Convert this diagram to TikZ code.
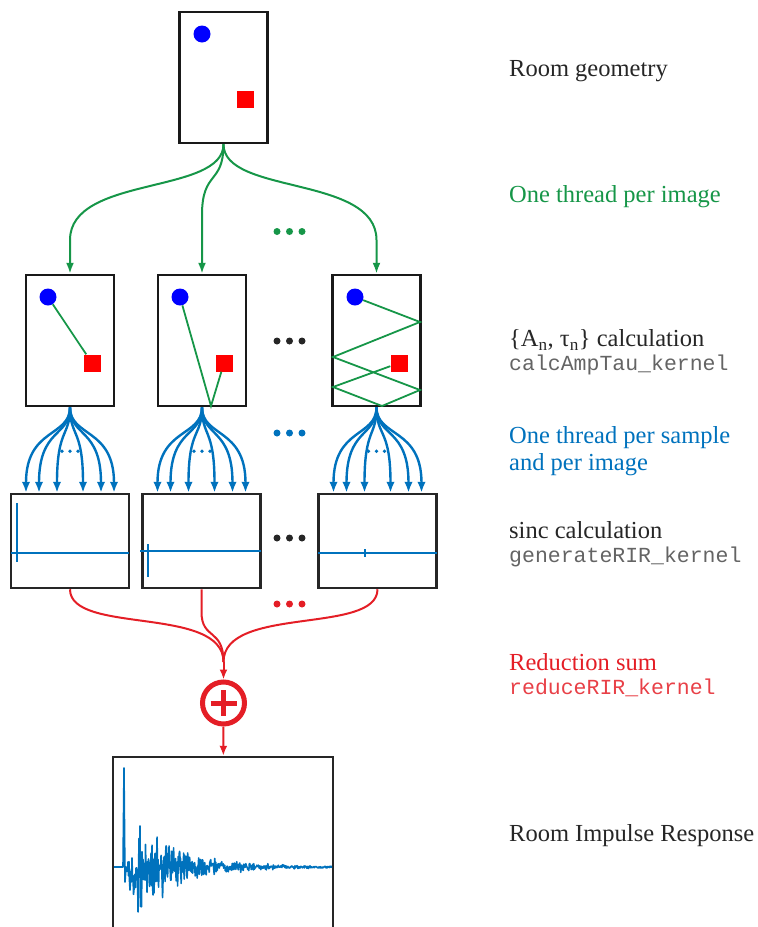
\documentclass[tikz,border=0pt]{standalone}
\usepackage{fontspec}
\setmainfont{Liberation Serif}
\setmonofont{Liberation Mono}
\usetikzlibrary{arrows.meta,calc}

\definecolor{thrgreen}{RGB}{22,150,72}
\definecolor{smpblue}{RGB}{0,114,189}
\definecolor{sumred}{RGB}{228,30,38}
\definecolor{labgray}{RGB}{100,100,100}

\tikzset{
  room/.style={draw=black!90, line width=2.5pt, minimum width=88pt, minimum height=131pt, inner sep=0pt},
  sigbox/.style={draw=black!85, line width=2.5pt, minimum width=118pt, minimum height=94pt, inner sep=0pt},
  src/.style={circle, fill=blue, minimum size=17pt, inner sep=0pt},
  mic/.style={rectangle, fill=red, minimum size=17pt, inner sep=0pt},
  ray/.style={thrgreen, line width=1.8pt},
  thread/.style={thrgreen, line width=2pt, -{Latex[length=11pt,width=8pt]}},
  sample/.style={smpblue, line width=2.4pt, -{Latex[length=11pt,width=8.5pt]}},
  sumline/.style={sumred, line width=2pt},
  adder/.style={circle, draw=sumred, line width=5pt, minimum size=42pt, inner sep=0pt},
  wave/.style={smpblue, line width=1.2pt},
  txt/.style={anchor=west, inner sep=0pt, font=\fontsize{24.5}{27}\selectfont},
  kname/.style={anchor=west, inner sep=0pt, font=\fontsize{21.5}{25}\selectfont\ttfamily, text=labgray},
}

\begin{document}
\begin{tikzpicture}[x=1pt, y=-1pt]
    \useasboundingbox (0,0) rectangle (758,927);
    \clip (0,0) rectangle (758,927);

    % room with source and receiver
    \node[room] (r0) at (223.5,77.5) {};
    \node[src] (s0) at (202,34) {};
    \node[mic] (m0) at (245.5,99.5) {};

    % image rooms
    \node[room] (r1) at (70,340.5) {};
    \node[room] (r2) at (202,340.5) {};
    \node[room] (r3) at (376.5,340.5) {};
    \node[src] (s1) at (48,297) {};
    \node[mic] (m1) at (92,363) {};
    \node[src] (s2) at (180,297) {};
    \node[mic] (m2) at (224,363) {};
    \node[src] (s3) at (355,297) {};
    \node[mic] (m3) at (399,363) {};

    \draw[ray] (s1) -- (m1);
    \draw[ray] (s2) -- (211,406) -- (m2);
    \draw[ray] (s3) -- (420,322) -- (333,357) -- (420,390) -- (382,406) -- (333,387) -- (m3);

    \draw[thread] (r0.south) .. controls (223.5,195) and (70,175) .. (70,240) -- (r1.north);
    \draw[thread] (r0.south) .. controls (223.5,185) and (202,170) .. (202,215) -- (r2.north);
    \draw[thread] (r0.south) .. controls (223.5,195) and (376.5,175) .. (376.5,240) -- (r3.north);

    \foreach \x in {277,289.5,302} \fill[thrgreen] (\x,231.5) circle (3.5);
    \foreach \x in {277,289.5,302} \fill[black!85] (\x,341) circle (3.5);

    % sinc boxes
    \node[sigbox] (c1) at (70,541) {};
    \node[sigbox] (c2) at (201.5,541) {};
    \node[sigbox] (c3) at (377.5,541) {};

    \draw[wave] (11,553) -- (129,553);
    \draw[wave] (17,503) -- (17,562);
    \draw[wave] (140,551) -- (261,551);
    \draw[wave] (148,544) -- (148,577);
    \draw[wave] (318,553) -- (437,553);
    \draw[wave] (365,549) -- (365,557);

    \foreach \r/\c in {r1/c1, r2/c2, r3/c3} {
        \foreach \d in {-44,-31,-13,13,31,44}
            \draw[sample] (\r.south) .. controls ($(\r.south)+(0,30)$) and ($(\c.north)+(\d,-65)$) .. ($(\c.north)+(\d,0)$);
        \foreach \d in {-8,0,8}
            \fill[smpblue] ($(\r.south)+(\d,44)$) circle (1.8);
    }
    \foreach \x in {277,289.5,302} \fill[smpblue] (\x,433) circle (3.5);
    \foreach \x in {277,289.5,302} \fill[black!85] (\x,538) circle (3.5);

    % reduction
    \coordinate (merge) at (223.5,662);
    \node[adder] (plus) at (223.5,703) {};
    \draw[sumred, line width=5pt] ($(plus)+(-13,0)$) -- ($(plus)+(13,0)$) ($(plus)+(0,-13)$) -- ($(plus)+(0,13)$);

    \draw[sumline] (c1.south) .. controls (70,635) and (223.5,605) .. (merge);
    \draw[sumline] (c2.south) -- (201.5,612) .. controls (201.5,640) and (223.5,628) .. (merge);
    \draw[sumline] (c3.south) .. controls (377.5,635) and (223.5,605) .. (merge);
    \draw[sumline, -{Latex[length=10pt,width=8pt]}] (merge) -- (plus);
    \foreach \x in {277,289.5,302} \fill[sumred] (\x,604) circle (3.5);

    % impulse response
    \node[draw=black!85, line width=2.5pt, minimum width=220pt, minimum height=200pt, inner sep=0pt] (rir) at (223,857) {};
    \draw[sumline, -{Latex[length=10pt,width=8pt]}] (plus) -- (rir);

    \pgfmathsetseed{11}
    \draw[smpblue, line width=1.6pt, line join=round] (114,867) -- (123,867) -- (124,768) -- (125,882) -- (126,867)
        -- plot[domain=127:332, samples=410] (\x, {867 + (62*exp(-(\x-132)/38)*(1-exp(-(\x-126)/6)) + 8*exp(-(\x-127)/90))*rand*sqrt(abs(rand))});

    % labels
    \node[txt, text=black!85] (geo) at (509,71) {Room geometry};
    \node[txt, text=thrgreen] (thr) at (509,197) {One thread per image};
    \node[txt, text=black!85] (amp) at (509,340) {\{A\textsubscript{n}, τ\textsubscript{n}\} calculation};
    \node[kname] (ampk) at (509,365) {calcAmpTau\_kernel};
    \node[txt, text=smpblue, align=left] (smp) at (509,451.5) {One thread per sample\\and per image};
    \node[txt, text=black!85] (sinc) at (509,530) {sinc calculation};
    \node[kname] (sinck) at (509,557) {generateRIR\_kernel};
    \node[txt, text=sumred] (red) at (509,662) {Reduction sum};
    \node[kname, text=sumred!85] (redk) at (509,688) {reduceRIR\_kernel};
    \node[txt, text=black!85] (resp) at (509,836) {Room Impulse Response};
\end{tikzpicture}
\end{document}
